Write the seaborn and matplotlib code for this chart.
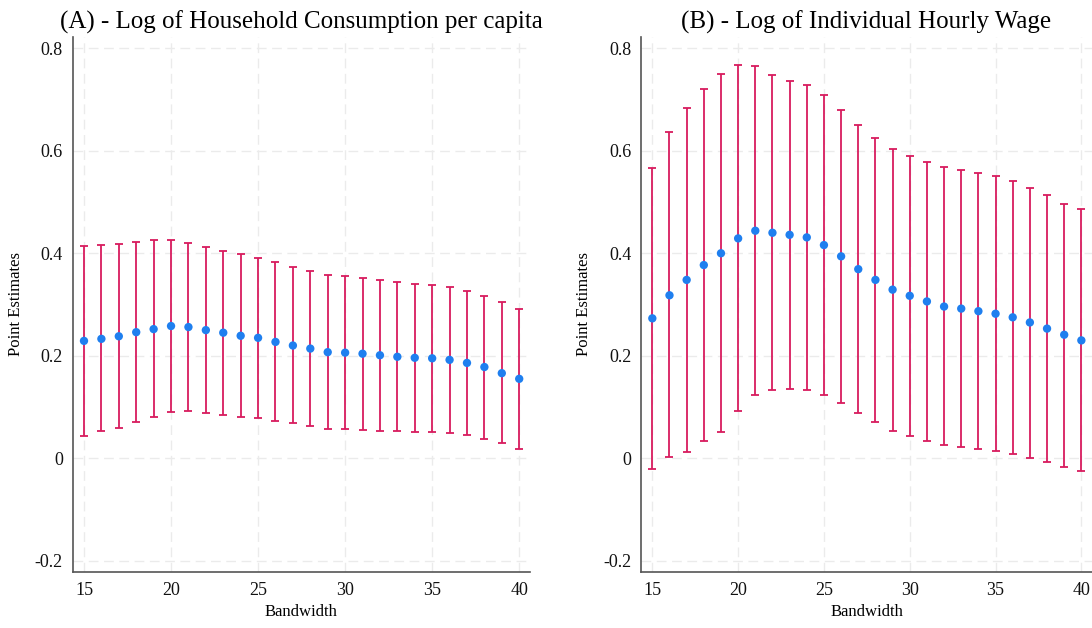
import numpy as np
import pandas as pd
import seaborn as sns
import matplotlib
matplotlib.use("Agg")
import matplotlib.pyplot as plt

# bandwidths on the x axis
bandwidth = list(range(15, 41))

# (A) household consumption per capita
cons_est = [0.229, 0.233, 0.238, 0.246, 0.252, 0.258, 0.256, 0.250, 0.245, 0.239,
            0.235, 0.227, 0.220, 0.214, 0.207, 0.206, 0.204, 0.201, 0.198, 0.196,
            0.195, 0.192, 0.186, 0.178, 0.166, 0.155]
cons_hi = [0.414, 0.416, 0.418, 0.422, 0.425, 0.425, 0.420, 0.412, 0.405, 0.398,
           0.391, 0.382, 0.373, 0.365, 0.358, 0.356, 0.352, 0.348, 0.344, 0.340,
           0.338, 0.334, 0.326, 0.317, 0.304, 0.292]
cons_lo = [0.044, 0.053, 0.059, 0.070, 0.081, 0.090, 0.092, 0.089, 0.085, 0.081,
           0.079, 0.073, 0.068, 0.062, 0.057, 0.057, 0.055, 0.054, 0.053, 0.051,
           0.051, 0.050, 0.046, 0.038, 0.029, 0.018]

# (B) individual hourly wage
wage_est = [0.273, 0.318, 0.348, 0.377, 0.400, 0.429, 0.444, 0.440, 0.436, 0.431,
            0.416, 0.394, 0.369, 0.348, 0.329, 0.317, 0.306, 0.296, 0.292, 0.287,
            0.282, 0.275, 0.265, 0.253, 0.241, 0.230]
wage_hi = [0.567, 0.636, 0.684, 0.721, 0.749, 0.767, 0.766, 0.747, 0.736, 0.728,
           0.708, 0.680, 0.650, 0.625, 0.604, 0.590, 0.578, 0.568, 0.562, 0.556,
           0.550, 0.541, 0.527, 0.513, 0.497, 0.486]
wage_lo = [-0.021, 0.002, 0.013, 0.033, 0.051, 0.093, 0.124, 0.133, 0.135, 0.134,
           0.124, 0.108, 0.088, 0.070, 0.053, 0.043, 0.034, 0.025, 0.022, 0.018,
           0.014, 0.008, 0.001, -0.007, -0.017, -0.025]

titles = ["(A) - Log of Household Consumption per capita",
          "(B) - Log of Individual Hourly Wage"]
yticks = [-0.2, 0, 0.2, 0.4, 0.6, 0.8]
ytick_labels = ["-0.2", "0", "0.2", "0.4", "0.6", "0.8"]
xticks = [15, 20, 25, 30, 35, 40]

sns.set_theme(style="white")
plt.rcParams['font.family'] = ['Liberation Serif', 'DejaVu Serif']
plt.rcParams['text.color'] = "black"
plt.rcParams['axes.labelcolor'] = "black"

bar_color = "#d81b5e"
dot_color = "#1f7fef"

fig = plt.figure(figsize=(10.92, 6.28), dpi=100)
ax1 = fig.add_axes([72.5 / 1092, 56 / 628, 457.5 / 1092, 535.5 / 628])
ax2 = fig.add_axes([641 / 1092, 56 / 628, 451 / 1092, 535.5 / 628])

panels = [(ax1, cons_est, cons_lo, cons_hi), (ax2, wage_est, wage_lo, wage_hi)]
for i, (ax, est, lo, hi) in enumerate(panels):
    df = pd.DataFrame({"Bandwidth": bandwidth, "est": est, "lo": lo, "hi": hi})
    ax.grid(True, color="#ebebeb", linestyle=(0, (7, 4)), linewidth=1.0, zorder=0)
    ax.set_axisbelow(True)
    ax.errorbar(df["Bandwidth"], df["est"],
                yerr=[df["est"] - df["lo"], df["hi"] - df["est"]],
                fmt="none", ecolor=bar_color, elinewidth=1.3, capsize=3.2,
                capthick=1.3, zorder=2)
    sns.scatterplot(data=df, x="Bandwidth", y="est", ax=ax, color=dot_color,
                    s=36, edgecolor="none", zorder=3)
    ax.set_xlim(14.34, 40.62)
    ax.set_ylim(-0.222, 0.823)
    ax.set_xticks(xticks)
    ax.set_yticks(yticks)
    ax.set_yticklabels(ytick_labels)
    ax.set_xlabel("Bandwidth", fontsize=12, labelpad=4)
    ax.set_ylabel("Point Estimates", fontsize=12, labelpad=8)
    ax.set_title(titles[i], fontsize=18, pad=6, color="black")
    ax.tick_params(axis="both", direction="out", length=5, width=1,
                   color="#444444", labelsize=13, labelcolor="#111111", pad=2)
    for side in ["top", "right"]:
        ax.spines[side].set_visible(False)
    for side in ["left", "bottom"]:
        ax.spines[side].set_color("#555555")
        ax.spines[side].set_linewidth(1.2)

fig.savefig("out.png", dpi=100)
